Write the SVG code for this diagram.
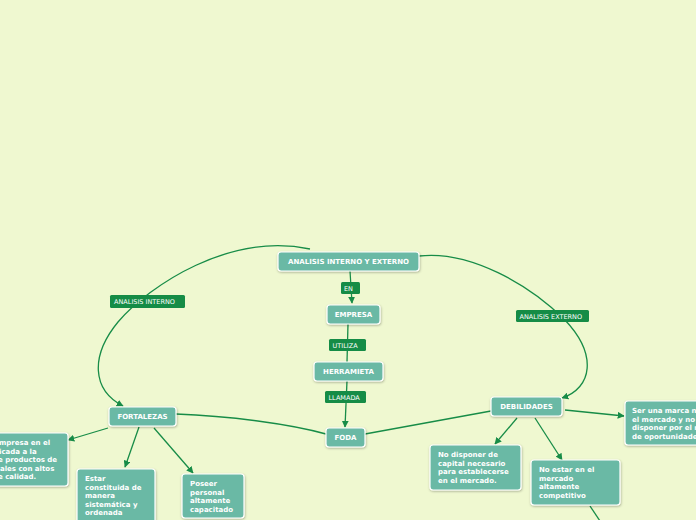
<svg xmlns="http://www.w3.org/2000/svg" width="696" height="520" viewBox="0 0 696 520">
<defs>
<marker id="ar" viewBox="0 0 10 10" refX="9" refY="5" markerWidth="7" markerHeight="7" orient="auto" markerUnits="userSpaceOnUse">
<path d="M0,0 L10,5 L0,10 z" fill="#178c47"/>
</marker>
<filter id="sh" x="-10%" y="-10%" width="130%" height="140%">
<feDropShadow dx="0.5" dy="1" stdDeviation="0.8" flood-color="#000" flood-opacity="0.3"/>
</filter>
</defs>
<style>
.n{fill:#6bb9a5;stroke:#ffffff;stroke-width:1.2;filter:url(#sh)}
.t{font-family:"DejaVu Sans",Verdana,sans-serif;font-weight:bold;font-size:7px;fill:#ffffff}
.tc{text-anchor:middle}
.lb{fill:#158c46}
.lt{font-family:"DejaVu Sans",Verdana,sans-serif;font-size:6.5px;fill:#ffffff}
.c{fill:none;stroke:#178c47;stroke-width:1.3}
</style>
<rect width="696" height="520" fill="#eff8d0"/>
<g id="connectors">
<path class="c" d="M350,271 L352,303" marker-end="url(#ar)"/>
<path class="c" d="M348,324 L347,362"/>
<path class="c" d="M347,381 L345,427" marker-end="url(#ar)"/>
<path class="c" d="M310,249 C230,232 150,285 118,322 C90,356 92,390 123,406" marker-end="url(#ar)"/>
<path class="c" d="M419,256 C470,250 530,285 565,320 C598,355 592,388 562,398" marker-end="url(#ar)"/>
<path class="c" d="M176,414 C230,416 290,424 326,434"/>
<path class="c" d="M365,434 L491,411"/>
<path class="c" d="M108,428 L68,440" marker-end="url(#ar)"/>
<path class="c" d="M139,427 L125,467" marker-end="url(#ar)"/>
<path class="c" d="M154,428 L193,473" marker-end="url(#ar)"/>
<path class="c" d="M517,418 L495,444" marker-end="url(#ar)"/>
<path class="c" d="M535,418 L562,460" marker-end="url(#ar)"/>
<path class="c" d="M565,410 L624,416" marker-end="url(#ar)"/>
<path class="c" d="M590,506 L600,521"/>
</g>
<g id="lbl-en"><rect class="lb" x="341" y="282" width="19" height="12" rx="1.5"/><text class="lt" x="344" y="290.5">EN</text></g>
<g id="lbl-utiliza"><rect class="lb" x="329" y="339" width="37" height="12" rx="1.5"/><text class="lt" x="332.5" y="347.5">UTILIZA</text></g>
<g id="lbl-llamada"><rect class="lb" x="325" y="391" width="41" height="12" rx="1.5"/><text class="lt" x="328.5" y="399.5">LLAMADA</text></g>
<g id="lbl-interno"><rect class="lb" x="110" y="295" width="75" height="13" rx="1.5"/><text class="lt" x="114" y="304">ANALISIS INTERNO</text></g>
<g id="lbl-externo"><rect class="lb" x="516" y="310" width="73" height="12" rx="1.5"/><text class="lt" x="519.5" y="318.5">ANALISIS EXTERNO</text></g>
<g id="n-root"><rect class="n" x="278" y="252" width="141" height="19" rx="3"/><text class="t tc" x="348.5" y="264">ANALISIS INTERNO Y EXTERNO</text></g>
<g id="n-empresa"><rect class="n" x="327" y="305" width="53" height="19" rx="3"/><text class="t tc" x="353.5" y="317">EMPRESA</text></g>
<g id="n-herramieta"><rect class="n" x="314" y="362" width="69" height="19" rx="3"/><text class="t tc" x="348.5" y="374">HERRAMIETA</text></g>
<g id="n-foda"><rect class="n" x="326" y="428" width="39" height="19" rx="3"/><text class="t tc" x="345.5" y="440">FODA</text></g>
<g id="n-fortalezas"><rect class="n" x="109" y="407" width="67" height="19" rx="3"/><text class="t tc" x="142.5" y="419">FORTALEZAS</text></g>
<g id="n-debilidades"><rect class="n" x="491" y="397" width="71" height="19" rx="3"/><text class="t tc" x="526.5" y="409">DEBILIDADES</text></g>
<g id="n-empresa-mercado"><rect class="n" x="-10" y="433" width="78" height="53" rx="3"/>
<text class="t"><tspan x="-1" y="445">mpresa en el</tspan><tspan x="-1" y="453.5">icada a la</tspan><tspan x="-2" y="462">e productos de</tspan><tspan x="0" y="470.5">ales con altos</tspan><tspan x="-2" y="479">e calidad.</tspan></text></g>
<g id="n-estar"><rect class="n" x="77" y="469" width="78" height="60" rx="3"/>
<text class="t"><tspan x="85" y="481">Estar</tspan><tspan x="85" y="489.5">constituida de</tspan><tspan x="85" y="498">manera</tspan><tspan x="85" y="506.5">sistemática y</tspan><tspan x="85" y="515">ordenada</tspan></text></g>
<g id="n-poseer"><rect class="n" x="182" y="474" width="62" height="44" rx="3"/>
<text class="t"><tspan x="190" y="486">Poseer</tspan><tspan x="190" y="494.5">personal</tspan><tspan x="190" y="503">altamente</tspan><tspan x="190" y="511.5">capacitado</tspan></text></g>
<g id="n-capital"><rect class="n" x="430" y="445" width="91" height="45" rx="3"/>
<text class="t"><tspan x="438" y="457">No disponer de</tspan><tspan x="438" y="465.5">capital necesario</tspan><tspan x="438" y="474">para establecerse</tspan><tspan x="438" y="482.5">en el mercado.</tspan></text></g>
<g id="n-competitivo"><rect class="n" x="531" y="460" width="89" height="45" rx="3"/>
<text class="t"><tspan x="539" y="472">No estar en el</tspan><tspan x="539" y="480.5">mercado</tspan><tspan x="539" y="489">altamente</tspan><tspan x="539" y="497.5">competitivo</tspan></text></g>
<g id="n-marca"><rect class="n" x="625" y="401" width="80" height="44" rx="3"/>
<text class="t"><tspan x="632" y="413">Ser una marca n</tspan><tspan x="632" y="421.5">el mercado y no</tspan><tspan x="632" y="430">disponer por el m</tspan><tspan x="632" y="438.5">de oportunidades</tspan></text></g>
</svg>
